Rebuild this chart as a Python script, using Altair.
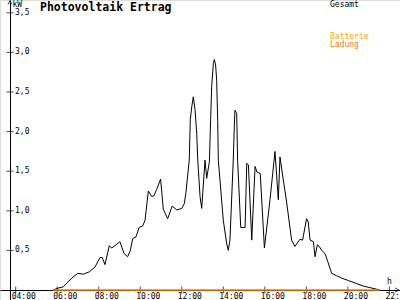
import altair as alt
import pandas as pd

# ---- data ----
HOURS = [5.80, 5.99, 6.29, 6.70, 6.99, 7.26, 7.55, 7.82, 8.06, 8.17, 8.30, 8.51, 8.62, 8.78,
         9.02, 9.22, 9.39, 9.51, 9.64, 9.79, 9.95, 10.12, 10.23, 10.39, 10.55, 10.66, 10.79,
         10.98, 11.11, 11.32, 11.54, 11.76, 12.00, 12.12, 12.20, 12.36, 12.41, 12.48, 12.555,
         12.64, 12.72, 12.77, 12.88, 12.96, 13.12, 13.20, 13.33, 13.39, 13.44, 13.52, 13.57,
         13.63, 13.68, 13.73, 13.76, 14.00, 14.16, 14.24, 14.32, 14.48, 14.53, 14.56, 14.645,
         14.69, 14.84, 15.05, 15.13, 15.21, 15.37, 15.53, 15.62, 15.78, 15.98, 16.25, 16.49,
         16.65, 16.73, 16.89, 17.05, 17.29, 17.45, 17.69, 17.82, 18.01, 18.09, 18.18, 18.34,
         18.42, 18.53, 18.62, 18.74, 18.90, 19.03, 19.22, 19.46, 19.70, 20.02, 20.43, 20.74,
         21.06, 21.39, 21.55]
GESAMT_KW = [0.00, 0.02, 0.04, 0.15, 0.21, 0.20, 0.23, 0.29, 0.41, 0.41, 0.32, 0.56, 0.53, 0.56,
             0.61, 0.46, 0.42, 0.49, 0.65, 0.67, 0.79, 0.81, 0.88, 1.25, 1.18, 1.19, 1.27,
             1.40, 1.02, 0.90, 1.06, 1.01, 1.03, 1.09, 1.23, 1.64, 2.15, 2.31, 2.44,
             2.27, 1.98, 1.64, 1.18, 1.03, 1.64, 1.41, 1.62, 2.15, 2.57, 2.86, 2.91,
             2.84, 2.65, 2.14, 1.64, 0.88, 0.59, 0.50, 0.63, 1.64, 2.06, 2.27, 2.23,
             1.64, 0.79, 0.79, 1.60, 1.58, 0.63, 1.56, 1.49, 1.47, 0.53, 1.14, 1.75,
             1.14, 1.68, 1.39, 1.11, 0.63, 0.55, 0.64, 0.63, 0.90, 0.86, 0.63, 0.61,
             0.42, 0.57, 0.55, 0.50, 0.46, 0.36, 0.21, 0.18, 0.15, 0.12, 0.08, 0.05,
             0.03, 0.01, 0.00]

LADUNG_HOURS = [5.80, 21.55]
LADUNG_KW = [0.0, 0.0]

X_TICKS = [4, 6, 8, 10, 12, 14, 16, 18, 20, 22]
X_LABELS = ["04:00", "06:00", "08:00", "10:00", "12:00", "14:00", "16:00", "18:00", "20:00", "22:00"]
Y_TICKS = [0.5, 1.0, 1.5, 2.0, 2.5, 3.0, 3.5]
Y_LABELS = ["0,5", "1,0", "1,5", "2,0", "2,5", "3,0", "3,5"]

TITLE = "Photovoltaik Ertrag"
LEGEND = [("Gesamt", "#000000"), ("Batterie", "#FFAA00"), ("Ladung", "#FF7F00")]

X_DOMAIN = [3.2437, 22.5116]
Y_DOMAIN = [-0.1263, 3.6616]
FONT = "DejaVu Sans Mono"

line_df = pd.DataFrame({"h": HOURS, "kw": GESAMT_KW})
lad_df = pd.DataFrame({"h": LADUNG_HOURS, "kw": LADUNG_KW})
xt_df = pd.DataFrame({"h": X_TICKS, "label": X_LABELS})
yt_df = pd.DataFrame({"kw": Y_TICKS, "label": Y_LABELS})

xs = alt.Scale(domain=X_DOMAIN, nice=False, zero=False)
ys = alt.Scale(domain=Y_DOMAIN, nice=False, zero=False)

xaxis = alt.Axis(orient="bottom", offset=-10, ticks=False, labels=False, grid=False,
                 title=None, domainColor="#000000", domainWidth=1)
yaxis = alt.Axis(orient="left", offset=-10, ticks=False, labels=False, grid=False,
                 title=None, domainColor="#000000", domainWidth=1)

gesamt = alt.Chart(line_df).mark_line(color="#000000", strokeWidth=1).encode(
    x=alt.X("h:Q", scale=xs, axis=xaxis),
    y=alt.Y("kw:Q", scale=ys, axis=yaxis),
)

ladung = alt.Chart(lad_df).mark_line(color="#FF7F00", strokeWidth=1.5).encode(
    x=alt.X("h:Q", scale=xs), y=alt.Y("kw:Q", scale=ys)
)

xticks = alt.Chart(xt_df).mark_tick(color="#000000", orient="vertical", size=7, thickness=1).encode(
    x=alt.X("h:Q", scale=xs), y=alt.datum(0, scale=ys)
)
xlabels = alt.Chart(xt_df).mark_text(font=FONT, fontSize=8, align="left", baseline="alphabetic",
                                     dx=-4, color="#000000").encode(
    x=alt.X("h:Q", scale=xs), y=alt.value(298.5), text="label:N"
)

yticks = alt.Chart(yt_df).mark_tick(color="#000000", orient="horizontal", size=7, thickness=1).encode(
    y=alt.Y("kw:Q", scale=ys), x=alt.value(10)
)
ylabels = alt.Chart(yt_df).mark_text(font=FONT, fontSize=8, align="left", baseline="middle",
                                     color="#000000").encode(
    y=alt.Y("kw:Q", scale=ys), x=alt.value(15), text="label:N"
)

title = alt.Chart(pd.DataFrame({"t": [TITLE]})).mark_text(
    font=FONT, fontSize=11.5, fontWeight="bold", align="left", baseline="alphabetic", color="#000000"
).encode(x=alt.value(40), y=alt.value(11), text="t:N")

leg_df = pd.DataFrame({"t": [l[0] for l in LEGEND], "c": [l[1] for l in LEGEND], "yy": [7, 38.5, 46.5]})
legend = alt.Chart(leg_df).mark_text(font=FONT, fontSize=8, align="left", baseline="alphabetic").encode(
    x=alt.value(330), y=alt.Y("yy:Q", scale=None), text="t:N",
    color=alt.Color("c:N", scale=None),
)

units = alt.Chart(pd.DataFrame({"t": ["kW", "h"], "xx": [12.5, 387], "yy": [7, 284]})).mark_text(
    font=FONT, fontSize=8, align="left", baseline="alphabetic", color="#000000"
).encode(x=alt.X("xx:Q", scale=None), y=alt.Y("yy:Q", scale=None), text="t:N")

arrow_up = alt.Chart(pd.DataFrame({"a": [0]})).mark_point(
    shape="M-1,1L0,-1L1,1", filled=False, stroke="#000000", strokeWidth=1, size=16
).encode(x=alt.value(10), y=alt.value(2.5))
arrow_right = alt.Chart(pd.DataFrame({"a": [0]})).mark_point(
    shape="M-1,-1L1,0L-1,1", filled=False, stroke="#000000", strokeWidth=1, size=16
).encode(x=alt.value(397), y=alt.value(290))

chart = alt.layer(
    gesamt, xticks, yticks, ladung, xlabels, ylabels, title, legend, units, arrow_up, arrow_right
).properties(
    width=400, height=300, padding=0, autosize=alt.AutoSizeParams(type="none")
).configure_view(stroke=None).configure(background="#FFFFFF")

chart.save("out.html", embed_options={"renderer": "svg", "actions": False})
